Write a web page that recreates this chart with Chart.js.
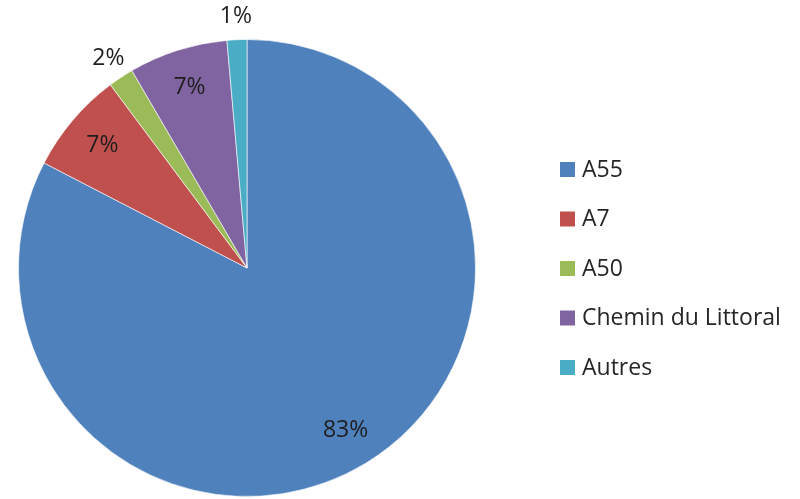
<!DOCTYPE html>
<html>
<head>
<meta charset="utf-8">
<script src="https://cdn.jsdelivr.net/npm/chart.js@4.4.0/dist/chart.umd.min.js"></script>
<style>
  body { margin: 0; background: #fff; }
</style>
</head>
<body>
<canvas id="myChart" width="800" height="499"></canvas>
<script>
// Données (parts en %)
const categories = ['A55', 'A7', 'A50', 'Chemin du Littoral', 'Autres']
const parts = [82.6, 7.2, 1.8, 7.0, 1.4]
const couleurs = ['#4F81BD', '#C0504D', '#9BBB59', '#8064A2', '#4BACC6']

const police = '"Open Sans", Lato, sans-serif'

// Etiquettes en % : dedans pour les grosses parts, dehors pour les petites
const etiquettes = {
  id: 'etiquettes',
  afterDatasetsDraw(chart) {
    const { ctx } = chart
    const total = parts.reduce((a, b) => a + b, 0)
    ctx.save()
    ctx.font = '23px ' + police
    ctx.fillStyle = '#1e1e1e'
    ctx.textAlign = 'center'
    ctx.textBaseline = 'middle'
    chart.getDatasetMeta(0).data.forEach((arc, i) => {
      const mid = (arc.startAngle + arc.endAngle) / 2
      const r = parts[i] < 5 ? arc.outerRadius * 1.1 : arc.outerRadius * 0.83
      const x = arc.x + Math.cos(mid) * r
      const y = arc.y + Math.sin(mid) * r
      ctx.fillText(Math.round(parts[i] / total * 100) + '%', x, y)
    })
    ctx.restore()
  }
}

// Légende à droite
const legende = {
  id: 'legende',
  afterDraw(chart) {
    const { ctx } = chart
    ctx.save()
    ctx.font = '23px ' + police
    ctx.textAlign = 'left'
    ctx.textBaseline = 'middle'
    chart.data.labels.forEach((lab, i) => {
      const y = 170 + i * 49.5
      ctx.fillStyle = couleurs[i]
      ctx.fillRect(560, y - 8, 15, 15)
      ctx.fillStyle = '#262626'
      ctx.fillText(lab, 582, y)
    })
    ctx.restore()
  }
}

const ctx = document.getElementById('myChart')

new Chart(ctx, {
  type: 'pie',
  plugins: [etiquettes, legende],
  data: {
    labels: categories,
    datasets: [{
      data: parts,
      backgroundColor: couleurs,
      borderColor: 'rgba(255,255,255,0.6)',
      borderWidth: 1
    }]
  },
  options: {
    responsive: false,
    animation: false,
    layout: { padding: { left: 18, right: 324, top: 39, bottom: 2 } },
    plugins: {
      legend: { display: false },
      tooltip: { enabled: false }
    }
  }
})
</script>
</body>
</html>
